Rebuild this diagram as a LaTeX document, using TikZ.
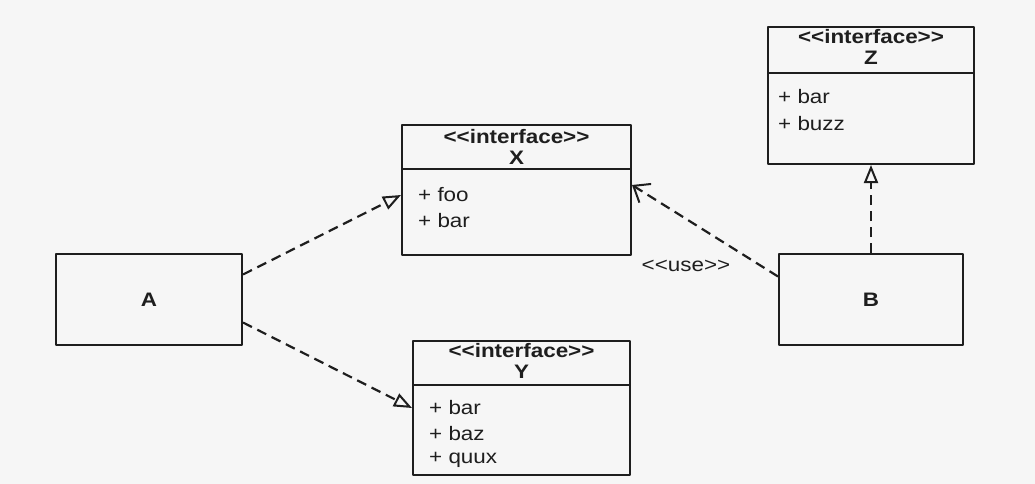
\documentclass[tikz,border=0pt]{standalone}
\usepackage{fontspec}
\newfontfamily\umlfont[FakeStretch=1.15]{Liberation Sans}
\usetikzlibrary{arrows.meta}
\definecolor{bgcol}{RGB}{246,246,246}
\definecolor{inkcol}{RGB}{30,30,30}
\def\iface{<<interface>>}
\begin{document}
\begin{tikzpicture}[x=1pt, y=-1pt, line join=round, font=\umlfont\fontsize{19.5}{22}\selectfont,
	box/.style={draw=inkcol, line width=2pt, inner sep=0pt},
	realize/.style={draw=inkcol, line width=2.2pt, dash pattern=on 10pt off 6pt, -{Triangle[open, length=18pt, width=14pt, line width=2pt]}},
	uses/.style={draw=inkcol, line width=2.2pt, dash pattern=on 10pt off 6pt, -{Straight Barb[length=14pt, width=22pt, line width=2pt]}},
	title/.style={text=inkcol, inner sep=0pt, font=\umlfont\bfseries\fontsize{19.5}{22}\selectfont},
	item/.style={text=inkcol, inner sep=0pt, anchor=west}]
	\fill[bgcol] (0,0) rectangle (1035,484);
	\useasboundingbox (0,0) rectangle (1035,484);
	% plain classes
	\node[box, minimum width=186pt, minimum height=91pt] (a) at (149,299.5) {};
	\node[title] (a-name) at (a) {A};
	\node[box, minimum width=184pt, minimum height=91pt] (b) at (871,299.5) {};
	\node[title] (b-name) at (b) {B};
	% interfaces
	\node[box, minimum width=229pt, minimum height=130pt] (x) at (516.5,190) {};
	\draw[inkcol, line width=2pt] ([yshift=-45pt]x.north west) -- ([yshift=-45pt]x.north east);
	\node[title] (x-st) at (516.5,137) {\iface};
	\node[title] (x-name) at (516.5,158) {X};
	\node[item] (x-foo) at (418,195) {+ foo};
	\node[item] (x-bar) at (418,221) {+ bar};
	\node[box, minimum width=217pt, minimum height=134pt] (y) at (521.5,408) {};
	\draw[inkcol, line width=2pt] ([yshift=-45pt]y.north west) -- ([yshift=-45pt]y.north east);
	\node[title] (y-st) at (521.5,351) {\iface};
	\node[title] (y-name) at (521.5,372) {Y};
	\node[item] (y-bar) at (429,408) {+ bar};
	\node[item] (y-baz) at (429,434) {+ baz};
	\node[item] (y-quux) at (429,460) {+ quux};
	\node[box, minimum width=206pt, minimum height=137pt] (z) at (871,95.5) {};
	\draw[inkcol, line width=2pt] ([yshift=-47pt]z.north west) -- ([yshift=-47pt]z.north east);
	\node[title] (z-st) at (871,37) {\iface};
	\node[title] (z-name) at (871,58) {Z};
	\node[item] (z-bar) at (778,97) {+ bar};
	\node[item] (z-buzz) at (778,124) {+ buzz};
	% relations
	\draw[realize] ([yshift=25pt]a.east) -- ([yshift=-5pt]x.west);
	\draw[realize] ([yshift=-23pt]a.east) -- (y.west);
	\draw[realize] (b) -- (z);
	\draw[uses] ([yshift=23pt]b.west) -- ([yshift=5pt]x.east);
	\node[text=inkcol] (use) at (686,266) {<<use>>};
\end{tikzpicture}
\end{document}
